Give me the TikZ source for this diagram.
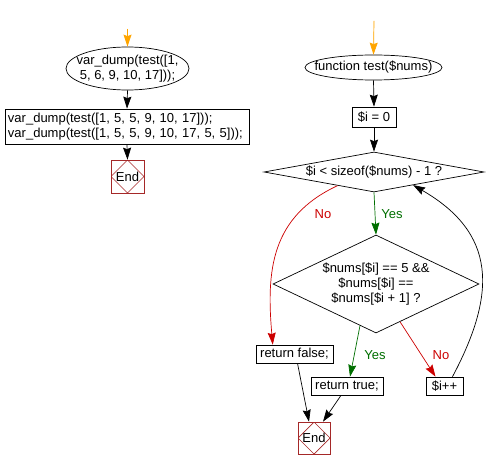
\documentclass[tikz,border=0pt]{standalone}
\usepackage{fontspec}
\setmainfont{Liberation Sans}
\usetikzlibrary{shapes.geometric,arrows.meta,calc}
\definecolor{startor}{RGB}{255,165,0}
\definecolor{noRed}{RGB}{204,0,0}
\definecolor{yesGreen}{RGB}{0,110,0}
\definecolor{endRed}{RGB}{165,40,40}
\tikzset{
  every node/.style={font=\fontsize{13}{15}\selectfont},
  conn/.style={line width=0.7pt,-{Stealth[length=12pt,width=8pt,inset=1.5pt]}},
  startarrow/.style={conn,draw=startor,fill=startor},
  noconn/.style={conn,draw=noRed},
  yesconn/.style={conn,draw=yesGreen},
  oval/.style={ellipse,draw,line width=0.7pt,inner sep=0pt},
  boxnode/.style={rectangle,draw,line width=0.7pt,inner sep=0pt},
  decision/.style={diamond,draw,line width=0.7pt,inner sep=0pt},
  endnode/.style={rectangle,draw=endRed,line width=0.7pt,minimum width=33pt,minimum height=33pt,inner sep=0pt,
    path picture={\draw[endRed,line width=0.7pt] (path picture bounding box.north) -- (path picture bounding box.east) -- (path picture bounding box.south) -- (path picture bounding box.west) -- cycle;}},
  nolabel/.style={text=noRed},
  yeslabel/.style={text=yesGreen}
}
\begin{document}
\begin{tikzpicture}[x=1pt,y=-1pt]
\useasboundingbox (0,0) rectangle (489,470);
% left flow
\coordinate (s1) at (127.5,29);
\node[oval,minimum width=123pt,minimum height=43pt,label={[align=center]center:var\_dump(test([1,\\5, 6, 9, 10, 17]));}] (e1) at (127.5,68.5) {};
\node[boxnode,text width=238pt,inner xsep=3pt,minimum height=35pt,align=left] (r1) at (127,126.5) {var\_dump(test([1, 5, 5, 9, 10, 17]));\\var\_dump(test([1, 5, 5, 9, 10, 17, 5, 5]));};
\node[endnode] (end1) at (127.5,176.5) {End};
\draw[startarrow] (s1) -- (e1.north);
\draw[conn] (e1.south) -- (r1.north);
\draw[conn] (r1.south) -- (end1.north);
% right flow
\coordinate (s2) at (374,21);
\node[oval,minimum width=137pt,minimum height=25pt,label={center:function test(\$nums)}] (e2) at (373.5,67.5) {};
\node[boxnode,minimum width=44pt,minimum height=20pt] (r2) at (374,117) {\$i = 0};
\node[decision,minimum width=220pt,minimum height=40pt,label={center:\$i < sizeof(\$nums) - 1 ?}] (d1) at (374,172) {};
\node[decision,minimum width=206pt,minimum height=98pt,label={[align=center]center:\$nums[\$i] == 5 \&\&\\\$nums[\$i] ==\\\$nums[\$i + 1] ?}] (d2) at (376,284) {};
\node[boxnode,minimum width=77pt,minimum height=18pt] (rf) at (294.5,354) {return false;};
\node[boxnode,minimum width=72pt,minimum height=18pt] (rt) at (347,386) {return true;};
\node[boxnode,minimum width=37pt,minimum height=18pt] (ri) at (444.5,386) {\$i++};
\node[endnode,minimum width=32pt,minimum height=32pt] (end2) at (314,438) {End};
\draw[startarrow] (s2) -- (e2.north);
\draw[conn] (e2.south) -- (r2.north);
\draw[conn] (r2.south) -- (d1.north);
\draw[yesconn] (d1.south) -- (d2.north);
\node[yeslabel] (y1) at (392,214) {Yes};
\draw[noconn] ($(d1.south)!0.33!(d1.west)$) to[out=205,in=95,looseness=1.1] ($(rf.north west)!0.22!(rf.north east)$);
\node[nolabel] (n1) at (323,214) {No};
\draw[yesconn] ($(d2.south)!0.155!(d2.west)$) -- ([xshift=3pt]rt.north);
\node[yeslabel] (y2) at (375,355) {Yes};
\draw[noconn] ($(d2.south)!0.233!(d2.east)$) -- ([xshift=-9pt]ri.north);
\node[nolabel] (n2) at (441,355) {No};
\draw[conn] ([xshift=8pt]ri.north) to[out=62,in=-30,looseness=1.25] ($(d1.south)!0.355!(d1.east)$);
\draw[conn] ([xshift=3pt]rf.south) -- ([xshift=-5pt]end2.north);
\draw[conn] ([xshift=-6pt]rt.south) -- ([xshift=9pt]end2.north);
\end{tikzpicture}
\end{document}
